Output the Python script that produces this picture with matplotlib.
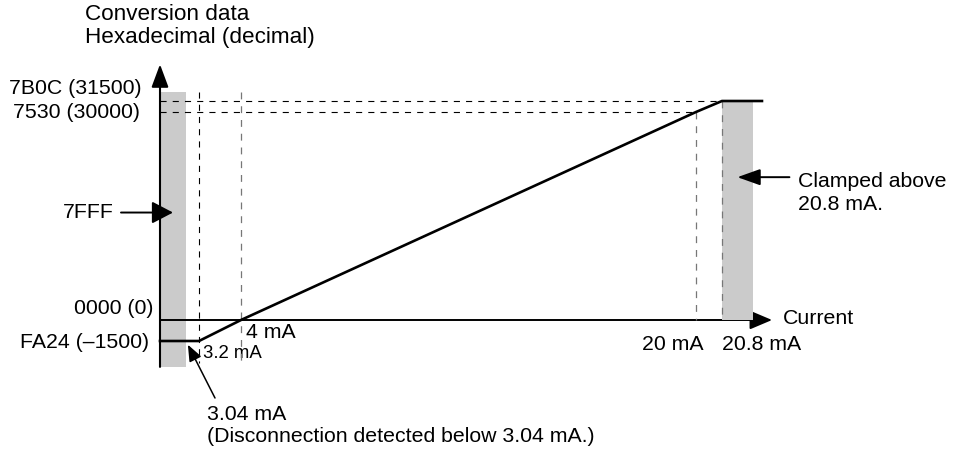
"""
Analog input conversion chart (4-20 mA range) - schematic, not to scale.
"""

import numpy as np
import matplotlib
matplotlib.use("Agg")
import matplotlib.pyplot as plt

plt.rcParams["font.family"] = ["Liberation Sans", "DejaVu Sans"]

# ── Data ────────────────────────────────────────────────────────────────────
currents_ma = [3.04, 3.2, 4.0, 20.0, 20.8]
codes       = [-1500, 0, 30000, 31500]
code_7fff   = 32767
y_labels    = ["FA24 (\u20131500)", "0000 (0)", "7530 (30000)", "7B0C (31500)"]

# conversion curve (current -> code)
curve_ma   = [3.2, 4.0, 20.0, 20.8]
curve_code = [-1500, 0, 30000, 31500]

# ── Schematic axis mapping (value -> figure pixel) ──────────────────────────
X_MAP = ([3.04, 3.2, 4.0, 20.0, 20.8], [186, 199, 241, 696, 722])
Y_MAP = ([-1500, 0, 30000, 31500], [113, 134, 342, 353])

X_ORIGIN    = 2.72    # where the vertical axis stands
X_BAND_END  = 21.75
X_LINE_END  = 22.03
X_ARROW_END = 22.34
Y_BOTTOM    = -3350
Y_ARROW_TOP = 36500
DASH_BOTTOM = -3100

W, H = 963, 454
FS = 15.3


def piecewise(src, dst):
    src = np.asarray(src, float)
    dst = np.asarray(dst, float)
    lo = (dst[1] - dst[0]) / (src[1] - src[0])
    hi = (dst[-1] - dst[-2]) / (src[-1] - src[-2])

    def f(v):
        v = np.asarray(v, float)
        out = np.interp(v, src, dst)
        out = np.where(v < src[0], dst[0] + (v - src[0]) * lo, out)
        out = np.where(v > src[-1], dst[-1] + (v - src[-1]) * hi, out)
        return out
    return f


def pt(px):
    return px * 72 / 100


fig = plt.figure(figsize=(W / 100, H / 100), dpi=100)
ax = fig.add_axes([0, 0, 1, 1])
xf, xi = piecewise(*X_MAP), piecewise(X_MAP[1], X_MAP[0])
yf, yi = piecewise(*Y_MAP), piecewise(Y_MAP[1], Y_MAP[0])
ax.set_xscale("function", functions=(xf, xi))
ax.set_yscale("function", functions=(yf, yi))
ax.set_xlim(float(xi(0)), float(xi(W)))
ax.set_ylim(float(yi(0)), float(yi(H)))
ax.axis("off")

grey = "#cbcbcb"
dash = (0, (5.5, 5.5))

# ── Grey regions ────────────────────────────────────────────────────────────
ax.fill_between([X_ORIGIN, currents_ma[0]], Y_BOTTOM, code_7fff,
                color=grey, lw=0, zorder=1)
ax.fill_between([currents_ma[-1], X_BAND_END], codes[1], codes[-1],
                color=grey, lw=0, zorder=3)

# ── Dashed guides ───────────────────────────────────────────────────────────
ax.plot([X_ORIGIN, currents_ma[4]], [codes[3], codes[3]], color="black",
        lw=0.8, ls=dash, zorder=3.2)
ax.plot([X_ORIGIN, currents_ma[3]], [codes[2], codes[2]], color="black",
        lw=0.8, ls=dash, zorder=3.2)
ax.plot([currents_ma[1]] * 2, [code_7fff, DASH_BOTTOM], color="black",
        lw=0.8, ls=dash, zorder=3.2)
ax.plot([currents_ma[2]] * 2, [code_7fff, DASH_BOTTOM], color="#777777",
        lw=0.9, ls=dash, zorder=3.2)
ax.plot([currents_ma[3]] * 2, [codes[2], codes[1]], color="#777777",
        lw=0.9, ls=dash, zorder=3.2)
ax.plot([currents_ma[4]] * 2, [codes[3], codes[1]], color="#777777",
        lw=0.9, ls=dash, zorder=3.2)

# ── Axes with arrows ────────────────────────────────────────────────────────
ax.annotate("", xy=(X_ORIGIN, Y_ARROW_TOP), xytext=(X_ORIGIN, Y_BOTTOM),
            arrowprops=dict(arrowstyle="-|>,head_length=1.4,head_width=0.52",
                            color="black", lw=1.5, shrinkA=0, shrinkB=0,
                            mutation_scale=10), zorder=5)
ax.annotate("", xy=(X_ARROW_END, 0), xytext=(X_ORIGIN, 0),
            arrowprops=dict(arrowstyle="-|>,head_length=1.37,head_width=0.58",
                            color="black", lw=1.4, shrinkA=0, shrinkB=0,
                            mutation_scale=10), zorder=2)

# ── Conversion curve ────────────────────────────────────────────────────────
ax.plot([X_ORIGIN] + curve_ma + [X_LINE_END],
        [curve_code[0]] + curve_code + [curve_code[-1]],
        color="black", lw=1.9, solid_joinstyle="miter", zorder=4)


def label(text, x, y, dx, dy, **kw):
    kw.setdefault("fontsize", FS)
    kw.setdefault("va", "center")
    ax.annotate(text, (x, y), xytext=(pt(dx), pt(dy)),
                textcoords="offset points", **kw)


# y labels
for txt, c, dx, dy in zip(y_labels, codes, [-11, -7, -20, -18], [-1, 11, -1, 13]):
    label(txt, X_ORIGIN, c, dx, dy, ha="right")

# x labels
label("3.2 mA", currents_ma[1], codes[0], 4, -12, ha="left", fontsize=13.4)
label("4 mA", currents_ma[2], codes[1], 5, -13, ha="left")
label("20 mA", currents_ma[3], codes[1], 7, -24, ha="right")
label("20.8 mA", currents_ma[4], codes[1], 0, -24, ha="left")
label("Current", X_ARROW_END, codes[1], 11, 2, ha="left")

# 7FFF pointer
tip_7fff = ((X_ORIGIN + currents_ma[0]) / 2, 15500)
ax.annotate("", xy=tip_7fff, xytext=(pt(-52), 0), textcoords="offset points",
            arrowprops=dict(arrowstyle="-|>,head_length=1.3,head_width=0.68",
                            color="black", lw=1.4, shrinkA=0, shrinkB=0,
                            mutation_scale=10), zorder=6)
label("7FFF", *tip_7fff, -59, 0, ha="right")

# clamp pointer
tip_clamp = ((currents_ma[4] + X_BAND_END) / 2, 20600)
ax.annotate("", xy=tip_clamp, xytext=(pt(52), 0), textcoords="offset points",
            arrowprops=dict(arrowstyle="-|>,head_length=1.4,head_width=0.5",
                            color="black", lw=1.4, shrinkA=0, shrinkB=0,
                            mutation_scale=10), zorder=6)
label("Clamped above\n20.8 mA.", *tip_clamp, 61, -16, ha="left",
      linespacing=1.3)

# disconnection pointer
ax.annotate("", xy=(currents_ma[0], codes[0]), xytext=(pt(29), pt(-57)),
            textcoords="offset points",
            arrowprops=dict(arrowstyle="-|>,head_length=1.0,head_width=0.4",
                            color="black", lw=1.1, shrinkA=0, shrinkB=3,
                            mutation_scale=10), zorder=6)
label("3.04 mA", currents_ma[0], codes[0], 21, -74, ha="left")
label("(Disconnection detected below 3.04 mA.)", currents_ma[0], codes[0],
      21, -96, ha="left")

# axis title
fig.text(85 / W, 1 - 15 / H, "Conversion data", fontsize=16.2, va="center")
fig.text(85 / W, 1 - 37 / H, "Hexadecimal (decimal)", fontsize=16.2,
         va="center")

fig.savefig("out.png", dpi=100)
